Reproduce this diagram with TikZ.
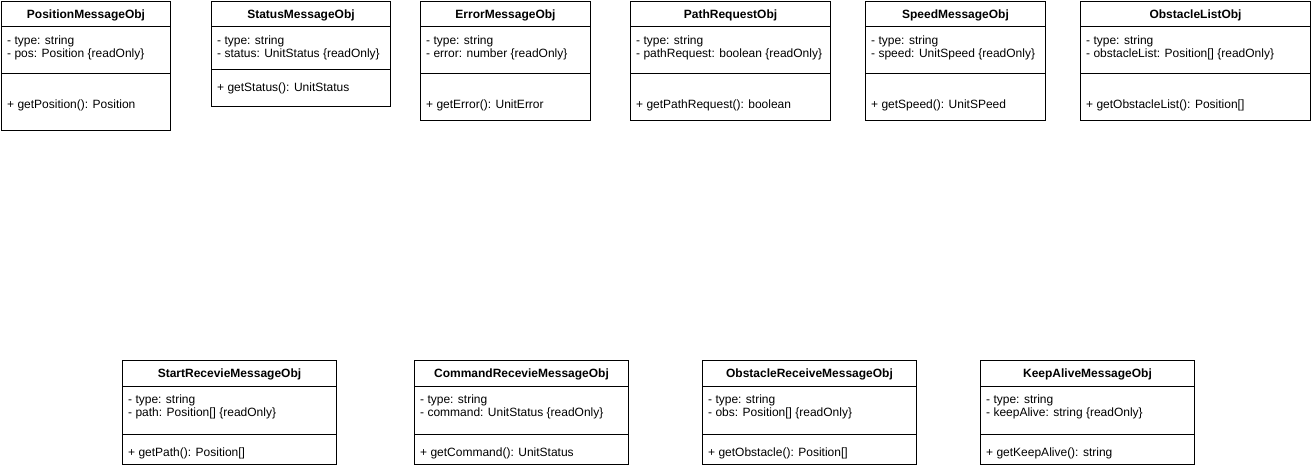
\documentclass[tikz,border=0pt]{standalone}
\usepackage{fontspec}
\setmainfont{Liberation Sans}
\tikzset{
  cls/.style={draw=black, line width=1pt, anchor=north west, inner sep=0pt, fill=white},
  sepline/.style={draw=black, line width=1pt},
  ttl/.style={font=\fontsize{12}{13}\selectfont\bfseries, inner sep=0pt, anchor=base},
  txt/.style={font=\fontsize{12}{13}\selectfont, inner sep=0pt, anchor=base west},
}
% #1 id, #2 x, #3 y, #4 w, #5 h, #6 separator offset, #7 title, #8 second attribute, #9 method
\newcommand\umlclassbox[9]{%
  \node[cls, minimum width=#4pt, minimum height=#5pt] (#1) at (#2,#3) {};
  \draw[sepline] ([yshift=-26pt]#1.north west) -- ([yshift=-26pt]#1.north east);
  \draw[sepline] ([yshift=-#6pt]#1.north west) -- ([yshift=-#6pt]#1.north east);
  \node[ttl] (#1t) at ([yshift=-17.5pt]#1.north) {#7};
  \node[txt] (#1a) at ([xshift=6pt,yshift=-43.5pt]#1.north west) {- type: string};
  \node[txt] (#1b) at ([xshift=6pt,yshift=-56.5pt]#1.north west) {#8};
  \node[txt] (#1m) at ([xshift=6pt,yshift=-#6pt-\mo pt]#1.north west) {#9};
}
\begin{document}
\begin{tikzpicture}[x=1pt,y=-1pt]
\useasboundingbox (0,0) rectangle (1311,468);
\def\mo{35}
\umlclassbox{pos}{1}{1}{169}{129}{73}{PositionMessageObj}{- pos: Position \{readOnly\}}{+ getPosition(): Position}
\def\mo{22}
\umlclassbox{sta}{211}{1}{179}{105}{69}{StatusMessageObj}{- status: UnitStatus \{readOnly\}}{+ getStatus(): UnitStatus}
\def\mo{35}
\umlclassbox{err}{420}{1}{170}{119}{73}{ErrorMessageObj}{- error: number \{readOnly\}}{+ getError(): UnitError}
\umlclassbox{pth}{630}{1}{200}{119}{73}{PathRequestObj}{- pathRequest: boolean \{readOnly\}}{+ getPathRequest(): boolean}
\umlclassbox{spd}{865}{1}{180}{119}{73}{SpeedMessageObj}{- speed: UnitSpeed \{readOnly\}}{+ getSpeed(): UnitSPeed}
\umlclassbox{obl}{1080}{1}{230}{119}{73}{ObstacleListObj}{- obstacleList: Position[] \{readOnly\}}{+ getObstacleList(): Position[]}
\def\mo{22}
\umlclassbox{srm}{122}{360}{214}{104}{74}{StartRecevieMessageObj}{- path: Position[] \{readOnly\}}{+ getPath(): Position[]}
\umlclassbox{crm}{414}{360}{214}{104}{74}{CommandRecevieMessageObj}{- command: UnitStatus \{readOnly\}}{+ getCommand(): UnitStatus}
\umlclassbox{orm}{702}{360}{214}{104}{74}{ObstacleReceiveMessageObj}{- obs: Position[] \{readOnly\}}{+ getObstacle(): Position[]}
\umlclassbox{kam}{980}{360}{214}{104}{74}{KeepAliveMessageObj}{- keepAlive: string \{readOnly\}}{+ getKeepAlive(): string}
\end{tikzpicture}
\end{document}
